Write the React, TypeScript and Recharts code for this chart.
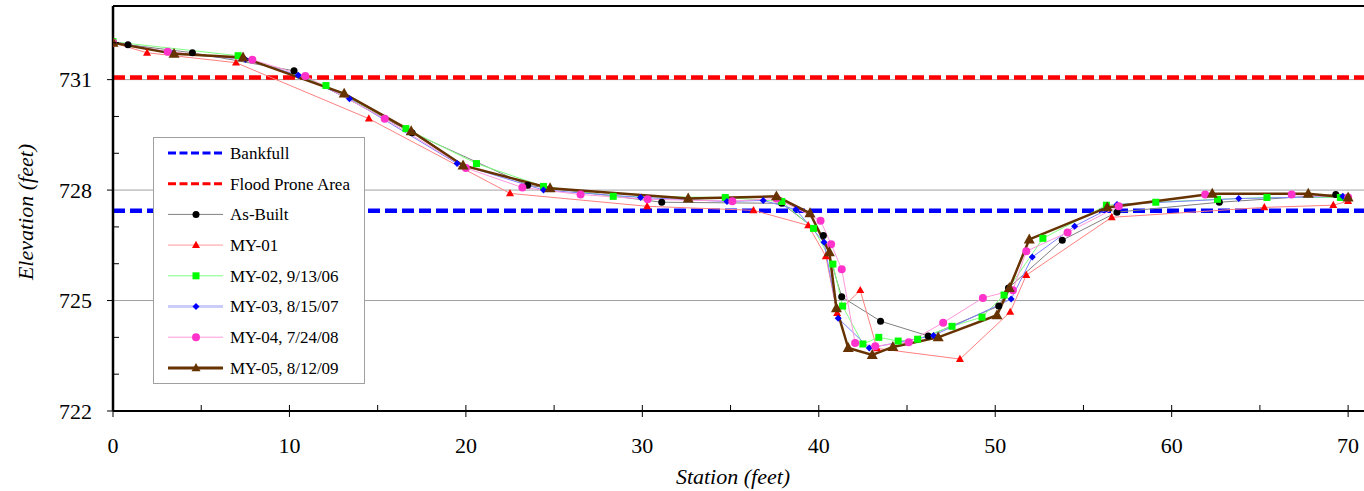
import React from 'react';
import { LineChart, Line, XAxis, YAxis, ReferenceLine, Legend } from 'recharts';

const FONT = 'Liberation Serif, Times New Roman, DejaVu Serif, serif';

// ---- data (station ft, elevation ft) ----
const asBuiltStation = [0, 0.85, 4.5, 10.26, 16.95, 23.5, 31.1, 37.9, 40.26, 41.3, 43.5, 46.2, 50.2, 50.75, 53.8, 56.9, 62.7, 69.3, 70.0];
const asBuiltElev = [732.03, 731.95, 731.73, 731.24, 729.56, 728.13, 727.67, 727.64, 726.77, 725.1, 724.44, 724.04, 724.85, 725.34, 726.64, 727.4, 727.67, 727.88, 727.8];

const my01Station = [0, 1.93, 6.97, 14.5, 22.5, 30.27, 36.3, 39.4, 40.4, 41.04, 42.35, 43.3, 48.0, 50.85, 51.76, 56.6, 65.25, 69.16, 70.0];
const my01Elev = [732.0, 731.73, 731.46, 729.94, 727.91, 727.56, 727.45, 727.04, 726.2, 724.66, 725.28, 723.7, 723.41, 724.69, 725.69, 727.26, 727.53, 727.59, 727.7];

const my02Station = [0, 7.09, 12.07, 16.6, 20.6, 24.4, 28.35, 34.7, 37.9, 39.7, 40.8, 41.35, 42.5, 43.4, 44.5, 45.6, 47.55, 49.25, 50.5, 52.7, 56.3, 59.1, 62.6, 65.4, 69.56];
const my02Elev = [732.03, 731.65, 730.84, 729.67, 728.72, 728.1, 727.83, 727.8, 727.69, 726.96, 725.99, 724.85, 723.82, 724.0, 723.9, 723.95, 724.3, 724.55, 725.15, 726.69, 727.59, 727.67, 727.75, 727.8, 727.8];

const my03Station = [0, 3.4, 7.5, 10.5, 13.4, 19.5, 24.4, 29.9, 34.8, 36.85, 38.7, 40.3, 41.1, 42.86, 46.5, 50.9, 52.1, 54.5, 56.9, 63.8, 69.7];
const my03Elev = [732.03, 731.72, 731.55, 731.12, 730.48, 728.72, 728.0, 727.8, 727.69, 727.72, 727.47, 726.58, 724.52, 723.71, 724.05, 725.04, 726.18, 727.02, 727.61, 727.77, 727.83];

const my04Station = [0, 3.1, 7.9, 10.9, 15.4, 20.0, 23.2, 26.5, 30.3, 35.1, 37.6, 40.1, 40.7, 41.3, 42.06, 43.2, 45.1, 47.05, 49.3, 51.0, 51.76, 54.1, 57.0, 61.9, 66.8, 70.0];
const my04Elev = [732.0, 731.76, 731.54, 731.1, 729.94, 728.6, 728.07, 727.88, 727.75, 727.7, 727.77, 727.17, 726.53, 725.85, 723.85, 723.76, 723.87, 724.4, 725.07, 725.28, 726.34, 726.85, 727.56, 727.88, 727.88, 727.8];

const my05Station = [0, 3.46, 7.37, 13.1, 16.9, 19.84, 24.77, 32.6, 37.6, 39.5, 40.6, 41.0, 41.67, 43.03, 44.2, 46.77, 50.1, 50.8, 51.93, 56.35, 62.3, 67.74, 70.0];
const my05Elev = [732.0, 731.7, 731.6, 730.62, 729.6, 728.67, 728.05, 727.77, 727.83, 727.37, 726.31, 724.79, 723.71, 723.52, 723.74, 724.0, 724.6, 725.34, 726.66, 727.53, 727.9, 727.9, 727.8];

const bankfullElev = 727.44;
const floodProneElev = 731.06;

const xTicks = [0, 5, 10, 15, 20, 25, 30, 35, 40, 45, 50, 55, 60, 65, 70];
const yTicks = [722, 723, 724, 725, 726, 727, 728, 729, 730, 731, 732, 733];
const gridElevs = [725, 728, 731];

const toPoints = (xs: number[], ys: number[]) => xs.map((x, i) => ({ x, y: ys[i] }));

type Shape = 'circle' | 'square' | 'diamond' | 'triangle';

function marker(shape: Shape, cx: number, cy: number, color: string, size: number, key?: any) {
  const s = size / 2;
  switch (shape) {
    case 'circle':
      return <circle key={key} cx={cx} cy={cy} r={s} fill={color} />;
    case 'square':
      return <rect key={key} x={cx - s} y={cy - s} width={size} height={size} fill={color} />;
    case 'diamond':
      return <polygon key={key} points={`${cx},${cy - s} ${cx + s},${cy} ${cx},${cy + s} ${cx - s},${cy}`} fill={color} />;
    default: {
      const h = size * 0.9;
      return <polygon key={key} points={`${cx},${cy - h * 0.6} ${cx + s},${cy + h * 0.4} ${cx - s},${cy + h * 0.4}`} fill={color} />;
    }
  }
}

const series = [
  { name: 'As-Built', data: toPoints(asBuiltStation, asBuiltElev), stroke: '#808080', width: 1, shape: 'circle' as Shape, mColor: '#000000', mSize: 7, legStroke: '#808080', legWidth: 1 },
  { name: 'MY-01', data: toPoints(my01Station, my01Elev), stroke: '#FF8080', width: 1, shape: 'triangle' as Shape, mColor: '#FF0000', mSize: 8, legStroke: '#FF9999', legWidth: 1 },
  { name: 'MY-02, 9/13/06', data: toPoints(my02Station, my02Elev), stroke: '#80FF80', width: 1, shape: 'square' as Shape, mColor: '#00FF00', mSize: 7, legStroke: '#80FF80', legWidth: 1 },
  { name: 'MY-03, 8/15/07', data: toPoints(my03Station, my03Elev), stroke: '#8080FF', width: 1, shape: 'diamond' as Shape, mColor: '#0000FF', mSize: 7, legStroke: '#CCCCF8', legWidth: 3 },
  { name: 'MY-04, 7/24/08', data: toPoints(my04Station, my04Elev), stroke: '#FF99DD', width: 1, shape: 'circle' as Shape, mColor: '#FF33CC', mSize: 8, legStroke: '#FF99DD', legWidth: 1 },
  { name: 'MY-05, 8/12/09', data: toPoints(my05Station, my05Elev), stroke: '#663300', width: 2.5, shape: 'triangle' as Shape, mColor: '#663300', mSize: 11, legStroke: '#663300', legWidth: 3 },
];

const textStyle = { fontFamily: FONT };

const XTick = (props: any) => {
  const { x, y, payload } = props;
  const v = payload.value;
  const major = v % 10 === 0;
  return (
    <g>
      <line x1={x} x2={x} y1={y - 6} y2={major ? y + 6 : y} stroke="#000" strokeWidth={1} />
      {major && (
        <text x={x} y={y + 42} textAnchor="middle" fontSize={22} style={textStyle} fill="#000">{v}</text>
      )}
    </g>
  );
};

const YTick = (props: any) => {
  const { x, y, payload } = props;
  const v = payload.value;
  const major = (v - 722) % 3 === 0;
  return (
    <g>
      {major ? (
        <line x1={x - 6} x2={x} y1={y} y2={y} stroke="#000" strokeWidth={1} />
      ) : (
        <line x1={x} x2={x + 6} y1={y} y2={y} stroke="#000" strokeWidth={1} />
      )}
      {major && (
        <text x={x - 21} y={y} dy="0.35em" textAnchor="end" fontSize={22} style={textStyle} fill="#000">{v}</text>
      )}
    </g>
  );
};

const XTitle = (props: any) => {
  const vb = props.viewBox || { x: 113, y: 411, width: 1251, height: 80 };
  return (
    <text x={vb.x + 620} y={vb.y + 73} textAnchor="middle" fontSize={22} fontStyle="italic" style={textStyle} fill="#000">
      Station (feet)
    </text>
  );
};

const YTitle = (props: any) => {
  const vb = props.viewBox || { x: 0, y: 6, width: 113, height: 405 };
  const cx = vb.x + 33;
  const cy = vb.y + 206;
  return (
    <text x={cx} y={cy} transform={`rotate(-90, ${cx}, ${cy})`} textAnchor="middle" fontSize={22} fontStyle="italic" style={textStyle} fill="#000">
      Elevation (feet)
    </text>
  );
};

const legendRows = [
  { name: 'Bankfull', dash: true, color: '#0000FF' },
  { name: 'Flood Prone Area', dash: true, color: '#FF0000' },
  ...series.map((s) => ({ name: s.name, dash: false, color: s.legStroke, width: s.legWidth, shape: s.shape, mColor: s.mColor, mSize: s.mSize })),
];

const renderLegend = () => (
  <div style={{ width: 212, height: 247, boxSizing: 'border-box', border: '1px solid #A0A0A0', background: '#fff' }}>
    <svg width={210} height={245} style={{ display: 'block' }}>
      {legendRows.map((r: any, i: number) => {
        const cy = 15 + i * 30.7;
        return (
          <g key={r.name}>
            {r.dash ? (
              <line x1={14} x2={69} y1={cy} y2={cy} stroke={r.color} strokeWidth={3} strokeDasharray="8 3.5" />
            ) : (
              <line x1={14} x2={69} y1={cy} y2={cy} stroke={r.color} strokeWidth={r.width} />
            )}
            {!r.dash && marker(r.shape, 42, cy, r.mColor, Math.min(r.mSize, 9))}
            <text x={76} y={cy} dy="0.35em" fontSize={17} style={textStyle} fill="#000">{r.name}</text>
          </g>
        );
      })}
    </svg>
  </div>
);

export default function App() {
  return (
    <div style={{ position: 'absolute', left: 0, top: 0, width: 1364, height: 491, background: '#fff', fontFamily: FONT }}>
      <LineChart width={1364} height={491} margin={{ top: 6, right: 0, bottom: 0, left: 0 }} style={{ fontFamily: FONT }}>
        <XAxis
          type="number"
          dataKey="x"
          domain={[0, 70.9]}
          ticks={xTicks}
          interval={0}
          allowDataOverflow
          height={80}
          tickSize={0}
          tickMargin={0}
          tickLine={false}
          tick={<XTick />}
          axisLine={{ stroke: '#000', strokeWidth: 2 }}
          label={<XTitle />}
        />
        <YAxis
          type="number"
          dataKey="y"
          domain={[722, 733]}
          ticks={yTicks}
          interval={0}
          allowDataOverflow
          width={113}
          tickSize={0}
          tickMargin={0}
          tickLine={false}
          tick={<YTick />}
          axisLine={{ stroke: '#000', strokeWidth: 2.5 }}
          label={<YTitle />}
        />
        {gridElevs.map((g) => (
          <ReferenceLine key={g} y={g} stroke="#A0A0A0" strokeWidth={1} />
        ))}
        <ReferenceLine y={733} stroke="#000" strokeWidth={2} />
        <ReferenceLine y={floodProneElev} stroke="#FF0000" strokeWidth={4.5} strokeDasharray="12 5" />
        <ReferenceLine y={bankfullElev} stroke="#0000FF" strokeWidth={4.5} strokeDasharray="12 5" />
        {series.map((s) => (
          <Line
            key={s.name}
            name={s.name}
            data={s.data}
            dataKey="y"
            type="linear"
            stroke={s.stroke}
            strokeWidth={s.width}
            isAnimationActive={false}
            activeDot={false}
            legendType="none"
            dot={(p: any) => {
              if (p.cx == null || p.cy == null) return <g key={p.index} />;
              return marker(s.shape, p.cx, p.cy, s.mColor, s.mSize, p.index);
            }}
          />
        ))}
        <Legend
          layout="vertical"
          align="center"
          verticalAlign="middle"
          content={renderLegend}
          wrapperStyle={{ position: 'absolute', left: 153, top: 137, width: 212, height: 247 }}
        />
      </LineChart>
    </div>
  );
}
